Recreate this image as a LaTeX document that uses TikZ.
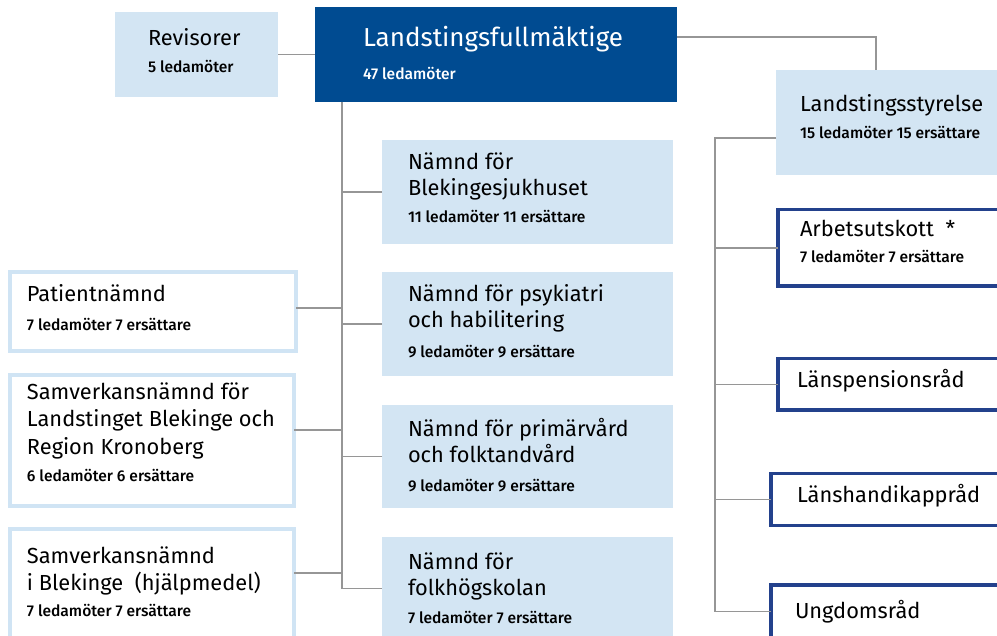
\documentclass[tikz,border=0pt]{standalone}
\usepackage{fontspec}
\setmainfont{Fira Sans}
\newfontfamily\subfont{Fira Sans Medium}
\definecolor{darkblue}{HTML}{004B91}
\definecolor{lightfill}{HTML}{D3E5F3}
\definecolor{lightborder}{HTML}{D0E4F4}
\definecolor{frameblue}{HTML}{23418C}
\definecolor{linegray}{HTML}{969696}
\begin{document}
\begin{tikzpicture}[x=1pt,y=-1pt,
  every node/.style={inner sep=0pt, outer sep=0pt},
  fillbox/.style={rectangle, fill=lightfill},
  topbox/.style={rectangle, fill=darkblue},
  framebox/.style={rectangle, draw=frameblue, line width=3.5pt, fill=white},
  lightbox/.style={rectangle, draw=lightborder, line width=4pt, fill=white},
  ttl/.style={anchor=base west, font=\fontsize{21.8}{26}\selectfont, text=black},
  bigttl/.style={anchor=base west, font=\fontsize{26}{30}\selectfont, text=white},
  sub/.style={anchor=base west, font=\subfont\fontsize{15.6}{18}\selectfont, text=black},
  conn/.style={draw=linegray, line width=1.3pt}
]
\useasboundingbox (0,0) rectangle (997,636);
\clip (0,0) rectangle (997,636);

% boxes
\node[fillbox, minimum width=163pt, minimum height=85pt] (rev) at (196.5,54.5) {};
\node[topbox, minimum width=362pt, minimum height=95pt] (lf) at (496,54.5) {};
\node[fillbox, minimum width=224pt, minimum height=105pt] (ls) at (888,122.5) {};
\node[framebox, minimum width=226.5pt, minimum height=76.5pt] (au) at (891,248) {};
\node[framebox, minimum width=226.5pt, minimum height=51.5pt] (lp) at (891,384.5) {};
\node[framebox, minimum width=233.5pt, minimum height=51.5pt] (lh) at (887.5,499.5) {};
\node[framebox, minimum width=233.5pt, minimum height=53.5pt] (ung) at (887.5,611.5) {};
\node[fillbox, minimum width=291pt, minimum height=104pt] (b1) at (527.5,192) {};
\node[fillbox, minimum width=291pt, minimum height=104pt] (b2) at (527.5,324) {};
\node[fillbox, minimum width=291pt, minimum height=103pt] (b3) at (527.5,456.5) {};
\node[fillbox, minimum width=291pt, minimum height=103pt] (b4) at (527.5,588.5) {};
\node[lightbox, minimum width=286pt, minimum height=79pt] (pat) at (153,311.5) {};
\node[lightbox, minimum width=284pt, minimum height=131pt] (slb) at (152,440.5) {};
\node[lightbox, minimum width=284pt, minimum height=109pt] (sib) at (152,583.5) {};

% connectors
\coordinate (tr) at ([xshift=27pt]lf.south west);
\coordinate (rtop) at ([xshift=-61pt,yshift=-15.5pt]ls.west);
\draw[conn] (rev.east) -- (lf.west);
\draw[conn] ([yshift=17.5pt]lf.east) -| ([xshift=100pt]ls.north west);
\draw[conn] (tr) |- (b4.west);
\foreach \b in {b1,b2,b3} \draw[conn] (\b.west) -- (\b.west -| tr);
\draw[conn] ([yshift=3.5pt]pat.east) -- ([yshift=3.5pt]pat.east -| tr);
\draw[conn] ([yshift=10.5pt]slb.east) -- ([yshift=10.5pt]slb.east -| tr);
\draw[conn] ([yshift=10.5pt]sib.east) -- ([yshift=10.5pt]sib.east -| tr);
\draw[conn] ([yshift=-15.5pt]ls.west) -- (rtop) |- (ung.west);
\foreach \b in {au,lp,lh} \draw[conn] (\b.west) -- (\b.west -| rtop);

% texts
\node[ttl] (t-rev) at (148,46) {Revisorer};
\node[sub] (s-rev) at (148,73) {5 ledamöter};
\node[bigttl] (t-lf) at (363,47) {Landstingsfullmäktige};
\node[sub, text=white] (s-lf) at (363,80) {47 ledamöter};
\node[ttl] (t-ls) at (800,112) {Landstingsstyrelse};
\node[sub] (s-ls) at (800,139) {15 ledamöter 15 ersättare};
\node[ttl] (t-au) at (800,237) {Arbetsutskott\ \ *};
\node[sub] (s-au) at (800,263) {7 ledamöter 7 ersättare};
\node[ttl] (t-lp) at (797,388) {Länspensionsråd};
\node[ttl] (t-lh) at (797,502) {Länshandikappråd};
\node[ttl] (t-ung) at (795,618) {Ungdomsråd};

\node[ttl] (t-b1a) at (408,170) {Nämnd för};
\node[ttl] (t-b1b) at (408,196) {Blekingesjukhuset};
\node[sub] (s-b1) at (408,223) {11 ledamöter 11 ersättare};
\node[ttl] (t-b2a) at (408,302) {Nämnd för psykiatri};
\node[ttl] (t-b2b) at (408,328) {och habilitering};
\node[sub] (s-b2) at (408,358) {9 ledamöter 9 ersättare};
\node[ttl] (t-b3a) at (408,437) {Nämnd för primärvård};
\node[ttl] (t-b3b) at (408,463) {och folktandvård};
\node[sub] (s-b3) at (408,491) {9 ledamöter 9 ersättare};
\node[ttl] (t-b4a) at (408,569) {Nämnd för};
\node[ttl] (t-b4b) at (408,595) {folkhögskolan};
\node[sub] (s-b4) at (408,623) {7 ledamöter 7 ersättare};

\node[ttl] (t-pat) at (27,302) {Patientnämnd};
\node[sub] (s-pat) at (27,331) {7 ledamöter 7 ersättare};
\node[ttl] (t-slba) at (27,400) {Samverkansnämnd för};
\node[ttl] (t-slbb) at (27,427) {Landstinget Blekinge och};
\node[ttl] (t-slbc) at (27,455) {Region Kronoberg};
\node[sub] (s-slb) at (27,482) {6 ledamöter 6 ersättare};
\node[ttl] (t-siba) at (27,563) {Samverkansnämnd};
\node[ttl] (t-sibb) at (27,590) {i Blekinge\ \ (hjälpmedel)};
\node[sub] (s-sib) at (27,616) {7 ledamöter 7 ersättare};
\end{tikzpicture}
\end{document}
